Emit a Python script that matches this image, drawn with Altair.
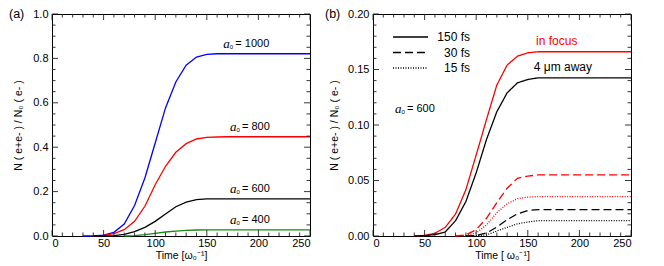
import altair as alt
import pandas as pd

FONT = "Liberation Sans"
SERIF = "Liberation Serif"

# ---------------- Panel (a) data ----------------
t_1000 = [30, 40, 50, 60, 70, 80, 90, 100, 110, 120, 130, 140, 150, 160, 170, 180, 190, 200, 210, 220, 230, 240, 250]
v_1000 = [0.0, 0.001, 0.004, 0.0165, 0.054, 0.137, 0.261, 0.419, 0.577, 0.694, 0.769, 0.806, 0.818, 0.821,
          0.821, 0.821, 0.821, 0.821, 0.821, 0.821, 0.821, 0.821, 0.821]
t_800 = [40, 50, 60, 70, 80, 90, 100, 110, 120, 130, 140, 150, 160, 170, 180, 190, 200, 210, 220, 230, 240, 250]
v_800 = [0.0, 0.003, 0.0105, 0.0285, 0.066, 0.134, 0.231, 0.314, 0.377, 0.416, 0.437, 0.444, 0.446,
         0.447, 0.447, 0.447, 0.447, 0.447, 0.447, 0.447, 0.447, 0.447]
t_600 = [40, 50, 60, 70, 80, 90, 100, 110, 120, 130, 140, 150, 160, 170, 180, 190, 200, 210, 220, 230, 240, 250]
v_600 = [0.0, 0.0005, 0.002, 0.0075, 0.02, 0.039, 0.066, 0.099, 0.132, 0.153, 0.164, 0.167, 0.167,
         0.167, 0.167, 0.167, 0.167, 0.167, 0.167, 0.167, 0.167, 0.167]
t_400 = [70, 80, 90, 100, 110, 120, 130, 140, 150, 160, 170, 180, 190, 200, 210, 220, 230, 240, 250]
v_400 = [0.0, 0.002, 0.006, 0.012, 0.018, 0.022, 0.025, 0.027, 0.028, 0.028,
         0.028, 0.028, 0.028, 0.028, 0.028, 0.028, 0.028, 0.028, 0.028]
series_a = ["1000", "800", "600", "400"]
colors_a = ["#0000ff", "#ff0000", "#000000", "#138a13"]

# ---------------- Panel (b) data ----------------
t_f150 = [40, 50, 60, 70, 80, 90, 100, 110, 120, 130, 140, 150, 160, 170, 180, 190, 200, 210, 220, 230, 240, 250]
v_f150 = [0.0, 0.0005, 0.0024, 0.0078, 0.0198, 0.0417, 0.073, 0.105, 0.136, 0.154, 0.162, 0.165, 0.166,
          0.166, 0.166, 0.166, 0.166, 0.166, 0.166, 0.166, 0.166, 0.166]
t_w150 = [40, 50, 60, 70, 80, 90, 100, 110, 120, 130, 140, 150, 160, 170, 180, 190, 200, 210, 220, 230, 240, 250]
v_w150 = [0.0, 0.0003, 0.0013, 0.0036, 0.0138, 0.031, 0.057, 0.087, 0.112, 0.129, 0.138, 0.141, 0.1425,
          0.1425, 0.1425, 0.1425, 0.1425, 0.1425, 0.1425, 0.1425, 0.1425, 0.1425]
t_f30 = [80, 90, 100, 110, 120, 130, 140, 150, 160, 170, 180, 190, 200, 210, 220, 230, 240, 250]
v_f30 = [0.0, 0.001, 0.0057, 0.016, 0.030, 0.043, 0.052, 0.054, 0.055,
         0.055, 0.055, 0.055, 0.055, 0.055, 0.055, 0.055, 0.055, 0.055]
t_f15 = [80, 90, 100, 110, 120, 130, 140, 150, 160, 170, 180, 190, 200, 210, 220, 230, 240, 250]
v_f15 = [0.0, 0.0005, 0.0027, 0.010, 0.021, 0.029, 0.0336, 0.035, 0.0355,
         0.0355, 0.0355, 0.0355, 0.0355, 0.0355, 0.0355, 0.0355, 0.0355, 0.0355]
t_w30 = [90, 100, 110, 120, 130, 140, 150, 160, 170, 180, 190, 200, 210, 220, 230, 240, 250]
v_w30 = [0.0, 0.0005, 0.0027, 0.008, 0.0147, 0.020, 0.023, 0.0237,
         0.0237, 0.0237, 0.0237, 0.0237, 0.0237, 0.0237, 0.0237, 0.0237, 0.0237]
t_w15 = [90, 100, 110, 120, 130, 140, 150, 160, 170, 180, 190, 200, 210, 220, 230, 240, 250]
v_w15 = [0.0, 0.0003, 0.001, 0.0045, 0.0078, 0.011, 0.0126, 0.0138,
         0.0138, 0.0138, 0.0138, 0.0138, 0.0138, 0.0138, 0.0138, 0.0138, 0.0138]
positions_b = ["in focus", "4 \u03bcm away"]
pulses_b = ["150 fs", "30 fs", "15 fs"]

# ---------------- tick values ----------------
x_major = [0, 50, 100, 150, 200, 250]
x_minor = [10, 20, 30, 40, 60, 70, 80, 90, 110, 120, 130, 140, 160, 170, 180, 190, 210, 220, 230, 240]
ya_major = [0.0, 0.2, 0.4, 0.6, 0.8, 1.0]
ya_minor = [0.05, 0.1, 0.15, 0.25, 0.3, 0.35, 0.45, 0.5, 0.55, 0.65, 0.7, 0.75, 0.85, 0.9, 0.95]
yb_major = [0.0, 0.05, 0.10, 0.15, 0.20]
yb_minor = [0.01, 0.02, 0.03, 0.04, 0.06, 0.07, 0.08, 0.09, 0.11, 0.12, 0.13, 0.14, 0.16, 0.17, 0.18, 0.19]

# ---------------- build tables ----------------
rows = []
for s, ts, vs in zip(series_a, [t_1000, t_800, t_600, t_400], [v_1000, v_800, v_600, v_400]):
    for t, v in zip(ts, vs):
        rows.append({"s": s, "t": t, "v": v})
df_a = pd.DataFrame(rows)

rows = []
for pos, pul, ts, vs in [
    (positions_b[0], pulses_b[0], t_f150, v_f150),
    (positions_b[1], pulses_b[0], t_w150, v_w150),
    (positions_b[0], pulses_b[1], t_f30, v_f30),
    (positions_b[0], pulses_b[2], t_f15, v_f15),
    (positions_b[1], pulses_b[1], t_w30, v_w30),
    (positions_b[1], pulses_b[2], t_w15, v_w15),
]:
    for t, v in zip(ts, vs):
        rows.append({"pos": pos, "pulse": pul, "t": t, "v": v})
df_b = pd.DataFrame(rows)

W, H = 258, 222
MAJ, MIN = 6, 3.5
TICK_COLOR = "#222222"

xscale = alt.Scale(domain=[0, 250], nice=False, zero=False)
ya_scale = alt.Scale(domain=[0, 1.0], nice=False)
yb_scale = alt.Scale(domain=[0, 0.2], nice=False)

YTITLE = "N ( e+e- )  /  N\u2080 ( e- )"
xaxis_a = alt.Axis(values=x_major, format="d", title="Time [\u03c9\u2080\u207b\u00b9]",
                   labelPadding=1.5, titlePadding=2)
xaxis_b = alt.Axis(values=x_major, format="d", title="Time [ \u03c9\u2080\u207b\u00b9]",
                   labelPadding=1.5, titlePadding=2)
yaxis_a = alt.Axis(values=ya_major, format=".1f", title=YTITLE, labelPadding=4, titlePadding=9)
yaxis_b = alt.Axis(values=yb_major, format=".2f", title=YTITLE, labelPadding=4, titlePadding=8)


def tick_layers(xaxis, yscale, yaxis, y_major, y_minor):
    layers = []
    for vals, L in [(x_major, MAJ), (x_minor, MIN)]:
        base = alt.Chart(pd.DataFrame({"v": vals})).mark_rule(color=TICK_COLOR, strokeWidth=0.9)
        layers.append(base.encode(x=alt.X("v:Q", scale=xscale, axis=xaxis), y=alt.value(H), y2=alt.value(H - L)))
        layers.append(base.encode(x=alt.X("v:Q", scale=xscale, axis=xaxis), y=alt.value(0), y2=alt.value(L)))
    for vals, L in [(y_major, MAJ), (y_minor, MIN)]:
        base = alt.Chart(pd.DataFrame({"v": vals})).mark_rule(color=TICK_COLOR, strokeWidth=0.9)
        layers.append(base.encode(y=alt.Y("v:Q", scale=yscale, axis=yaxis), x=alt.value(0), x2=alt.value(L)))
        layers.append(base.encode(y=alt.Y("v:Q", scale=yscale, axis=yaxis), x=alt.value(W), x2=alt.value(W - L)))
    return layers


def panel_label(txt, dx):
    return alt.Chart(pd.DataFrame({"s": [txt]})).mark_text(
        align="left", baseline="top", fontSize=12.5, font=FONT, color="black"
    ).encode(text="s:N", x=alt.value(dx), y=alt.value(-6))


def a0_label(label, x, y, px=False):
    enc_x = alt.value(x) if px else alt.datum(x)
    enc_y = alt.value(y) if px else alt.datum(y)
    d = pd.DataFrame({"s": [label]})
    a = alt.Chart(d).mark_text(align="left", baseline="middle", font=SERIF, fontStyle="italic",
                               fontSize=13, color="black", dy=-10, text="a").encode(x=enc_x, y=enc_y)
    sub = alt.Chart(d).mark_text(align="left", baseline="middle", font=FONT, fontSize=6,
                                 color="black", dx=6.5, dy=-7, text="0").encode(x=enc_x, y=enc_y)
    rest = alt.Chart(d).mark_text(align="left", baseline="middle", font=FONT, fontSize=11,
                                  color="black", dx=12, dy=-10).encode(x=enc_x, y=enc_y, text="s:N")
    return [a, sub, rest]


# ---------------- Panel (a) ----------------
lines_a = alt.Chart(df_a).mark_line(strokeWidth=1.3).encode(
    x=alt.X("t:Q", scale=xscale, axis=xaxis_a),
    y=alt.Y("v:Q", scale=ya_scale, axis=yaxis_a),
    color=alt.Color("s:N", scale=alt.Scale(domain=series_a, range=colors_a), legend=None),
)

ann_a = []
for lab, xs, vals in [("= 1000", 166, v_1000), ("= 800", 172.5, v_800), ("= 600", 172.5, v_600), ("= 400", 172.5, v_400)]:
    ann_a += a0_label(lab, xs, vals[-1])

left = alt.layer(lines_a, *tick_layers(xaxis_a, ya_scale, yaxis_a, ya_major, ya_minor), *ann_a,
                 panel_label("(a)", -43)).properties(width=W, height=H)

# ---------------- Panel (b) ----------------
dash_range = [[1, 0], [8, 4], [1, 1.5]]
lines_b = alt.Chart(df_b).mark_line(strokeWidth=1.3).encode(
    x=alt.X("t:Q", scale=xscale, axis=xaxis_b),
    y=alt.Y("v:Q", scale=yb_scale, axis=yaxis_b),
    color=alt.Color("pos:N", scale=alt.Scale(domain=positions_b, range=["#ff0000", "#000000"]), legend=None),
    strokeDash=alt.StrokeDash("pulse:N", scale=alt.Scale(domain=pulses_b, range=dash_range), legend=None),
)

lab_focus = alt.Chart(pd.DataFrame({"s": [positions_b[0]]})).mark_text(
    align="center", baseline="middle", fontSize=12, font=FONT, color="#ff0000", dy=-11
).encode(text="s:N", x=alt.datum(178), y=alt.datum(v_f150[-1]))
lab_away = alt.Chart(pd.DataFrame({"s": [positions_b[1]]})).mark_text(
    align="center", baseline="middle", fontSize=12, font=FONT, color="#000000", dy=-11
).encode(text="s:N", x=alt.datum(184), y=alt.datum(v_w150[-1]))

legend_layers = []
for pul, dash, py in zip(pulses_b, dash_range, [23, 38.5, 54]):
    legend_layers.append(
        alt.Chart(pd.DataFrame({"s": [pul]})).mark_rule(color="black", strokeWidth=1.3, strokeDash=dash)
        .encode(x=alt.value(20), x2=alt.value(55), y=alt.value(py))
    )
    legend_layers.append(
        alt.Chart(pd.DataFrame({"s": [pul]})).mark_text(align="right", baseline="middle", fontSize=12,
                                                        font=FONT, color="black")
        .encode(text="s:N", x=alt.value(97), y=alt.value(py))
    )

ann_b = a0_label("= 600", 22, 105, px=True)

right = alt.layer(lines_b, *tick_layers(xaxis_b, yb_scale, yaxis_b, yb_major, yb_minor), lab_focus, lab_away,
                  *legend_layers, *ann_b, panel_label("(b)", -48)).properties(width=W, height=H)

chart = (
    alt.hconcat(left, right, spacing=10)
    .resolve_scale(color="independent", strokeDash="independent")
    .properties(padding={"top": -1, "left": 0, "right": 0, "bottom": 0})
    .configure_view(stroke="black", strokeWidth=1)
    .configure_axis(domain=False, ticks=False, grid=False, labelFont=FONT, labelFontSize=11,
                    labelColor="black", titleFont=FONT, titleFontSize=10.5, titleFontWeight="normal",
                    titleColor="black")
    .configure_text(font=FONT)
)

chart.save("out.html", embed_options={"renderer": "svg", "actions": False})
